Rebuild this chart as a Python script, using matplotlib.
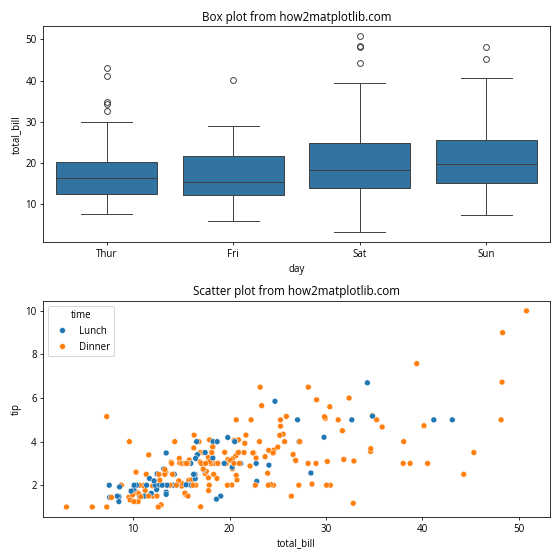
import matplotlib
matplotlib.use('Agg')
import matplotlib.pyplot as plt
import seaborn as sns
import pandas as pd

# tips data, in row order
total_bill = [
    16.99, 10.34, 21.01, 23.68, 24.59, 25.29, 8.77, 26.88, 15.04, 14.78,
    10.27, 35.26, 15.42, 18.43, 14.83, 21.58, 10.33, 16.29, 16.97, 20.65,
    17.92, 20.29, 15.77, 39.42, 19.82, 17.81, 13.37, 12.69, 21.7, 19.65,
    9.55, 18.35, 15.06, 20.69, 17.78, 24.06, 16.31, 16.93, 18.69, 31.27,
    16.04, 17.46, 13.94, 9.68, 30.4, 18.29, 22.23, 32.4, 28.55, 18.04,
    12.54, 10.29, 34.81, 9.94, 25.56, 19.49, 38.01, 26.41, 11.24, 48.27,
    20.29, 13.81, 11.02, 18.29, 17.59, 20.08, 16.45, 3.07, 20.23, 15.01,
    12.02, 17.07, 26.86, 25.28, 14.73, 10.51, 17.92, 27.2, 22.76, 17.29,
    19.44, 16.66, 10.07, 32.68, 15.98, 34.83, 13.03, 18.28, 24.71, 21.16,
    28.97, 22.49, 5.75, 16.32, 22.75, 40.17, 27.28, 12.03, 21.01, 12.46,
    11.35, 15.38, 44.3, 22.42, 20.92, 15.36, 20.49, 25.21, 18.24, 14.31,
    14.0, 7.25, 38.07, 23.95, 25.71, 17.31, 29.93, 10.65, 12.43, 24.08,
    11.69, 13.42, 14.26, 15.95, 12.48, 29.8, 8.52, 14.52, 11.38, 22.82,
    19.08, 20.27, 11.17, 12.26, 18.26, 8.51, 10.33, 14.15, 16.0, 13.16,
    17.47, 34.3, 41.19, 27.05, 16.43, 8.35, 18.64, 11.87, 9.78, 7.51,
    14.07, 13.13, 17.26, 24.55, 19.77, 29.85, 48.17, 25.0, 13.39, 16.49,
    21.5, 12.66, 16.21, 13.81, 17.51, 24.52, 20.76, 31.71, 10.59, 10.63,
    50.81, 15.81, 7.25, 31.85, 16.82, 32.9, 17.89, 14.48, 9.6, 34.63,
    34.65, 23.33, 45.35, 23.17, 40.55, 20.69, 20.9, 30.46, 18.15, 23.1,
    15.69, 19.81, 28.44, 15.48, 16.58, 7.56, 10.34, 43.11, 13.0, 13.51,
    18.71, 12.74, 13.0, 16.4, 20.53, 16.47, 26.59, 38.73, 24.27, 12.76,
    30.06, 25.89, 48.33, 13.27, 28.17, 12.9, 28.15, 11.59, 7.74, 30.14,
    12.16, 13.42, 8.58, 15.98, 13.42, 16.27, 10.09, 20.45, 13.28, 22.12,
    24.01, 15.69, 11.61, 10.77, 15.53, 10.07, 12.6, 32.83, 35.83, 29.03,
    27.18, 22.67, 17.82, 18.78,
]
tip = [
    1.01, 1.66, 3.5, 3.31, 3.61, 4.71, 2.0, 3.12, 1.96, 3.23,
    1.71, 5.0, 1.57, 3.0, 3.02, 3.92, 1.67, 3.71, 3.5, 3.35,
    4.08, 2.75, 2.23, 7.58, 3.18, 2.34, 2.0, 2.0, 4.3, 3.0,
    1.45, 2.5, 3.0, 2.45, 3.27, 3.6, 2.0, 3.07, 2.31, 5.0,
    2.24, 2.54, 3.06, 1.32, 5.6, 3.0, 5.0, 6.0, 2.05, 3.0,
    2.5, 2.6, 5.2, 1.56, 4.34, 3.51, 3.0, 1.5, 1.76, 6.73,
    3.21, 2.0, 1.98, 3.76, 2.64, 3.15, 2.47, 1.0, 2.01, 2.09,
    1.97, 3.0, 3.14, 5.0, 2.2, 1.25, 3.08, 4.0, 3.0, 2.71,
    3.0, 3.4, 1.83, 5.0, 2.03, 5.17, 2.0, 4.0, 5.85, 3.0,
    3.0, 3.5, 1.0, 4.3, 3.25, 4.73, 4.0, 1.5, 3.0, 1.5,
    2.5, 3.0, 2.5, 3.48, 4.08, 1.64, 4.06, 4.29, 3.76, 4.0,
    3.0, 1.0, 4.0, 2.55, 4.0, 3.5, 5.07, 1.5, 1.8, 2.92,
    2.31, 1.68, 2.5, 2.0, 2.52, 4.2, 1.48, 2.0, 2.0, 2.18,
    1.5, 2.83, 1.5, 2.0, 3.25, 1.25, 2.0, 2.0, 2.0, 2.75,
    3.5, 6.7, 5.0, 5.0, 2.3, 1.5, 1.36, 1.63, 1.73, 2.0,
    2.5, 2.0, 2.74, 2.0, 2.0, 5.14, 5.0, 3.75, 2.61, 2.0,
    3.5, 2.5, 2.0, 2.0, 3.0, 3.48, 2.24, 4.5, 1.61, 2.0,
    10.0, 3.16, 5.15, 3.18, 4.0, 3.11, 2.0, 2.0, 4.0, 3.55,
    3.68, 5.65, 3.5, 6.5, 3.0, 5.0, 3.5, 2.0, 3.5, 4.0,
    1.5, 4.19, 2.56, 2.02, 4.0, 1.44, 2.0, 5.0, 2.0, 2.0,
    4.0, 2.01, 2.0, 2.5, 4.0, 3.23, 3.41, 3.0, 2.03, 2.23,
    2.0, 5.16, 9.0, 2.5, 6.5, 1.1, 3.0, 1.5, 1.44, 3.09,
    2.2, 3.48, 1.92, 3.0, 1.58, 2.5, 2.0, 3.0, 2.72, 2.88,
    2.0, 3.0, 3.39, 1.47, 3.0, 1.25, 1.0, 1.17, 4.67, 5.92,
    2.0, 2.0, 1.75, 3.0,
]
# (value, number of consecutive rows)
day_runs = [('Sun', 19), ('Sat', 22), ('Sun', 15), ('Sat', 21), ('Thur', 13),
            ('Fri', 12), ('Sat', 10), ('Sun', 5), ('Thur', 33), ('Sun', 18),
            ('Sat', 4), ('Sun', 19), ('Thur', 15), ('Sat', 14), ('Fri', 7),
            ('Sat', 16), ('Thur', 1)]
time_runs = [('Dinner', 77), ('Lunch', 13), ('Dinner', 27), ('Lunch', 33),
             ('Dinner', 41), ('Lunch', 15), ('Dinner', 14), ('Lunch', 7),
             ('Dinner', 17)]
day_order = ['Thur', 'Fri', 'Sat', 'Sun']
time_order = ['Lunch', 'Dinner']

day = [v for v, n in day_runs for _ in range(n)]
time = [v for v, n in time_runs for _ in range(n)]
tips = pd.DataFrame({'total_bill': total_bill, 'tip': tip, 'day': day, 'time': time})

plt.rcParams['font.family'] = ['Open Sans', 'DejaVu Sans']

fig, (ax1, ax2) = plt.subplots(2, 1, figsize=(8, 8), dpi=70)

sns.boxplot(data=tips, x='day', y='total_bill', order=day_order, ax=ax1)
ax1.set_title('Box plot from how2matplotlib.com')

sns.scatterplot(data=tips, x='total_bill', y='tip', hue='time', hue_order=time_order, ax=ax2)
ax2.set_title('Scatter plot from how2matplotlib.com')

plt.tight_layout()
plt.savefig('out.png')
